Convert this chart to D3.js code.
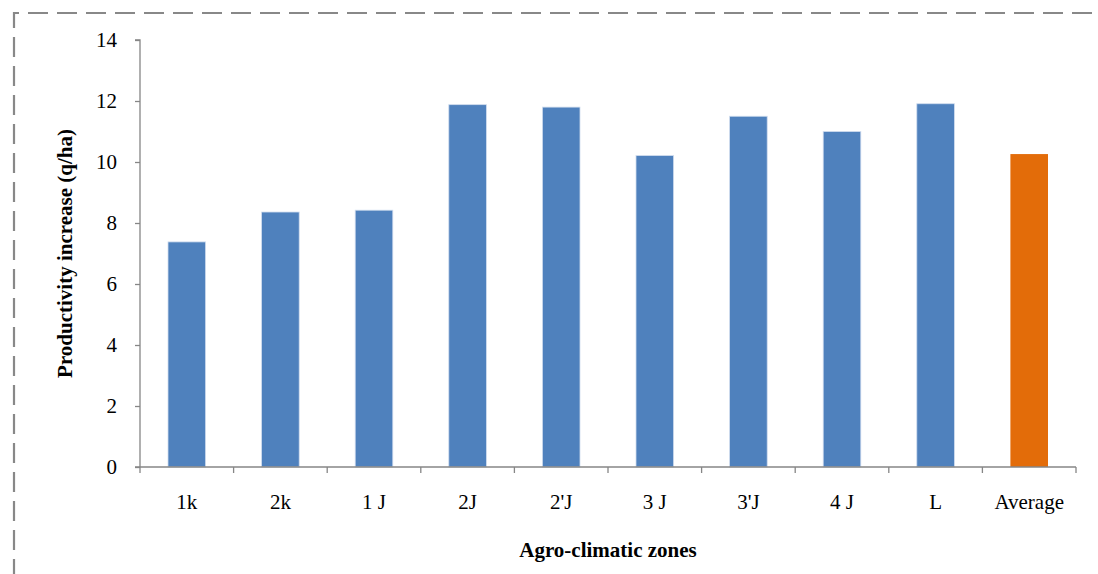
<!DOCTYPE html>
<html><head><meta charset="utf-8">
<script src="https://cdn.jsdelivr.net/npm/d3@7"></script>
<style>body{margin:0;background:#fff;}svg{display:block;} text{font-family:"Liberation Serif","Times New Roman",serif;}</style>
</head><body>
<svg id="c" width="1098" height="574"></svg>
<script>
const categories = ["1k","2k","1 J","2J","2'J","3 J","3'J","4 J","L","Average"];
const values = [7.38, 8.36, 8.42, 11.88, 11.8, 10.21, 11.5, 11.0, 11.91, 10.26];
const yTicks = [0,2,4,6,8,10,12,14];

const svg = d3.select("#c");
const W = 1098, H = 574;
const m = {left:140, right:1076, top:40, bottom:467};
const FONT = '"Liberation Serif","Times New Roman",serif';
const FS = 21;

// dashed border
svg.append("path")
  .attr("d", `M14,${H+5} L14,13 L${W+5},13`)
  .attr("fill","none").attr("stroke","#888").attr("stroke-width",2.2)
  .attr("stroke-dasharray","20,9");

const xb = d3.scaleBand().domain(categories).range([m.left, m.right]);
const y = d3.scaleLinear().domain([0,14]).range([m.bottom, m.top]);

svg.selectAll("rect.bar").data(values).enter().append("rect")
  .attr("class","bar")
  .attr("x",(d,i)=>xb(categories[i]) + xb.bandwidth()/2 - 18.8)
  .attr("width",37.6)
  .attr("y",d=>y(d))
  .attr("height",d=>m.bottom - y(d))
  .attr("fill",(d,i)=>categories[i]==="Average" ? "#E36C09" : "#4F81BD")
  .attr("stroke",(d,i)=>categories[i]==="Average" ? "none" : "#D0DDEE")
  .attr("stroke-width",0.8);

// y axis
const yAxis = svg.append("g").attr("transform",`translate(${m.left},0)`)
  .call(d3.axisLeft(y).tickValues(yTicks).tickSize(5).tickPadding(18).tickFormat(d3.format("d")));
yAxis.attr("font-family",FONT);
yAxis.select(".domain").attr("stroke","#868686").attr("stroke-width",1.3).attr("d",`M-5,${m.top}H0V${m.bottom}`);
yAxis.selectAll(".tick line").attr("stroke","#868686").attr("stroke-width",1.3);
yAxis.selectAll("text").style("font-family",FONT).attr("font-size",FS).attr("fill","#000");

// x axis
const xAxis = svg.append("g").attr("transform",`translate(0,${m.bottom})`);
xAxis.append("line").attr("x1",m.left-5).attr("x2",m.right).attr("y1",0).attr("y2",0)
  .attr("stroke","#868686").attr("stroke-width",1.3);
const bounds = categories.map(c=>xb(c)).concat([m.right]);
xAxis.selectAll("line.t").data(bounds).enter().append("line").attr("class","t")
  .attr("x1",d=>d).attr("x2",d=>d).attr("y1",0).attr("y2",6)
  .attr("stroke","#868686").attr("stroke-width",1.3);
xAxis.selectAll("text").data(categories).enter().append("text")
  .attr("x",d=>xb(d)+xb.bandwidth()/2).attr("y",42)
  .attr("text-anchor","middle").style("font-family",FONT).attr("font-size",FS)
  .text(d=>d);

// axis titles
svg.append("text").attr("transform",`translate(72,253.5) rotate(-90)`)
  .attr("text-anchor","middle").style("font-family",FONT).attr("font-weight","bold")
  .attr("font-size",FS).text("Productivity increase (q/ha)");
svg.append("text").attr("x",608).attr("y",557)
  .attr("text-anchor","middle").style("font-family",FONT).attr("font-weight","bold")
  .attr("font-size",FS).text("Agro-climatic zones");
</script>
</body></html>
